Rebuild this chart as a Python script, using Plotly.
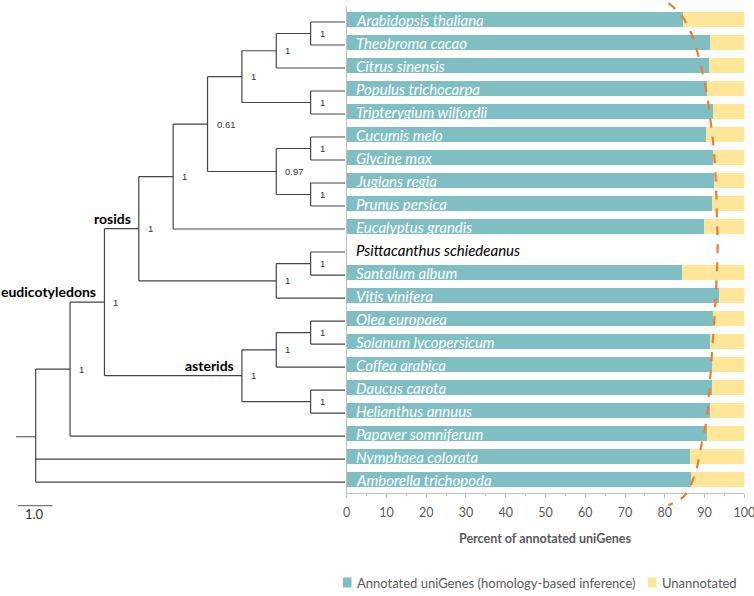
import plotly.graph_objects as go

# ---------------- data ----------------
species = ["Arabidopsis thaliana", "Theobroma cacao", "Citrus sinensis",
           "Populus trichocarpa", "Tripterygium wilfordii", "Cucumis melo",
           "Glycine max", "Juglans regia", "Prunus persica", "Eucalyptus grandis",
           "Psittacanthus schiedeanus", "Santalum album", "Vitis vinifera",
           "Olea europaea", "Solanum lycopersicum", "Coffea arabica",
           "Daucus carota", "Helianthus annuus", "Papaver somniferum",
           "Nymphaea colorata", "Amborella trichopoda"]
annotated = [84.4, 91.4, 91.1, 90.6, 92.0, 90.4, 92.1, 92.4, 91.7, 89.7,
             None, 84.2, 93.5, 92.1, 91.4, 91.9, 91.7, 91.4, 90.6, 86.3, 86.5]
unannotated = [15.6, 8.6, 8.9, 9.4, 8.0, 9.6, 7.9, 7.6, 8.3, 10.3,
               None, 15.8, 6.5, 7.9, 8.6, 8.1, 8.3, 8.6, 9.4, 13.7, 13.5]

# dashed guide curve (percent, row index)
curve_pct = [80.9, 83.8, 86.3, 88.4, 89.7, 90.8, 91.8, 92.4, 92.9, 93.1, 93.3,
             92.9, 92.4, 91.8, 91.2, 90.5, 89.3, 87.9, 86.3, 84.7, 80.9]
curve_row = [-0.73, -0.29, 0.43, 1.52, 2.47, 3.48, 4.78, 5.78, 7.25, 8.55, 9.86,
             11.74, 13.17, 14.64, 16.09, 17.39, 18.4, 19.57, 20.29, 20.73, 21.09]

legend_names = ["Annotated uniGenes (homology-based inference)", "Unannotated"]
x_ticks = [0, 10, 20, 30, 40, 50, 60, 70, 80, 90, 100]
scale_bar_length = 1.0


def clade(*children, support=None, label=None):
    return {"children": list(children), "support": support, "label": label}


t_A = clade("Arabidopsis thaliana", "Theobroma cacao", support="1")
t_B = clade(t_A, "Citrus sinensis", support="1")
t_C = clade("Populus trichocarpa", "Tripterygium wilfordii", support="1")
t_D = clade(t_B, t_C, support="1")
t_E = clade("Cucumis melo", "Glycine max", support="1")
t_F = clade("Juglans regia", "Prunus persica", support="1")
t_G = clade(t_E, t_F, support="0.97")
t_H = clade(t_D, t_G, support="0.61")
t_I = clade(t_H, "Eucalyptus grandis", support="1")
t_K = clade("Psittacanthus schiedeanus", "Santalum album", support="1")
t_L = clade(t_K, "Vitis vinifera", support="1")
t_J = clade(t_I, t_L, support="1", label="rosids")
t_N = clade("Olea europaea", "Solanum lycopersicum", support="1")
t_O = clade(t_N, "Coffea arabica", support="1")
t_P = clade("Daucus carota", "Helianthus annuus", support="1")
t_Q = clade(t_O, t_P, support="1", label="asterids")
t_M = clade(t_J, t_Q, support="1", label="eudicotyledons")
t_R = clade(t_M, "Papaver somniferum", support="1")
tree = clade(t_R, "Nymphaea colorata", "Amborella trichopoda")

# ---------------- geometry (pixels of the 754x596 page) ----------------
W, HPX = 754, 596
BAR_L, BAR_R = 346.7, 744.3
ROW_TOP_PX, ROW_BOT_PX = 7.35, 492.7
ROW_MIN, ROW_MAX = -0.55, 20.55
ROW_PX = (ROW_BOT_PX - ROW_TOP_PX) / (ROW_MAX - ROW_MIN)
TREE_ROOT_PX, TREE_LEAF_PX = 35.7, 345.0
TREE_DY = 2.0 / ROW_PX  # tree drawn 2px lower than bar centres


def pdom(px_top, px_bot):
    return [1 - px_bot / HPX, 1 - px_top / HPX]


def px_x(px):
    return px / W


def px_y(px):
    return 1 - px / HPX


def height(n):
    return 0 if isinstance(n, str) else 1 + max(height(c) for c in n["children"])


TH = height(tree)
unit = (TREE_LEAF_PX - TREE_ROOT_PX) / TH
tree_range = [-TREE_ROOT_PX / unit, TH + (BAR_L - TREE_LEAF_PX) / unit]

row_of = {s: i for i, s in enumerate(species)}
lx, ly = [], []
supports, clades = [], []


def layout_node(n):
    if isinstance(n, str):
        return float(TH), float(row_of[n])
    pos = [layout_node(c) for c in n["children"]]
    x = TH - height(n)
    ys = [p[1] for p in pos]
    y = sum(ys) / len(ys)
    lx.extend([x, x, None]); ly.extend([min(ys), max(ys), None])
    for cx, cy in pos:
        lx.extend([x, cx, None]); ly.extend([cy, cy, None])
    if n["support"]:
        supports.append((x, y, n["support"]))
    if n["label"]:
        clades.append((x, y, n["label"]))
    return x, y


root_x, root_y = layout_node(tree)
stub = 0.57
lx.extend([root_x - stub, root_x, None]); ly.extend([root_y, root_y, None])

# ---------------- figure ----------------
TEAL = "#7FBFC4"
GOLD = "#FFE699"
GREY_TXT = "#595959"
FONT = "Lato, Open Sans, sans-serif"

fig = go.Figure()
fig.add_trace(go.Bar(y=list(range(len(species))), x=annotated, orientation="h",
                     name=legend_names[0], marker=dict(color=TEAL, line_width=0),
                     width=0.65, xaxis="x", yaxis="y", hoverinfo="skip", showlegend=False))
fig.add_trace(go.Bar(y=list(range(len(species))), x=unannotated, orientation="h",
                     name=legend_names[1], marker=dict(color=GOLD, line_width=0),
                     width=0.65, xaxis="x", yaxis="y", hoverinfo="skip", showlegend=False))
fig.add_trace(go.Scatter(x=lx, y=ly, mode="lines", xaxis="x2", yaxis="y2",
                         line=dict(color="#454545", width=1.2), showlegend=False,
                         hoverinfo="skip"))
fig.add_trace(go.Scatter(x=curve_pct, y=curve_row, mode="lines", xaxis="x3", yaxis="y3",
                         line=dict(color="#ED7D31", width=2.2, dash="dash", shape="spline"),
                         showlegend=False, hoverinfo="skip"))

# overlay axis for the curve: larger vertical domain, same px mapping
OV_TOP_PX, OV_BOT_PX = 0.0, 520.0
ov_range = [ROW_MIN + (OV_BOT_PX - ROW_TOP_PX) / ROW_PX,
            ROW_MIN + (OV_TOP_PX - ROW_TOP_PX) / ROW_PX]

annotations = []
for i, s in enumerate(species):
    has_bar = annotated[i] is not None
    annotations.append(dict(xref="x", yref="y", x=0, y=i, xanchor="left", yanchor="middle",
                            xshift=7, showarrow=False, text=f"<i>{s}</i>",
                            font=dict(family=FONT, size=15,
                                      color="white" if has_bar else "black")))
for x, y, s in supports:
    annotations.append(dict(xref="x2", yref="y2", x=x, y=y, xanchor="left", yanchor="middle",
                            xshift=7, showarrow=False, text=s,
                            font=dict(family="Liberation Sans, Arial, sans-serif",
                                      size=9.5, color="#333333")))
for x, y, s in clades:
    annotations.append(dict(xref="x2", yref="y2", x=x, y=y, xanchor="right", yanchor="bottom",
                            xshift=-6, yshift=0, showarrow=False, text=f"<b>{s}</b>",
                            font=dict(family=FONT, size=14, color="black")))
annotations.append(dict(xref="x2", yref="paper", x=-stub + scale_bar_length / 2 + 0.04,
                        y=px_y(513.5), xanchor="center", yanchor="middle",
                        showarrow=False, text="1.0",
                        font=dict(family=FONT, size=13, color="#333333")))
annotations.append(dict(xref="x domain", yref="paper", x=0.5, y=px_y(538),
                        xanchor="center", yanchor="middle", showarrow=False,
                        text="<b>Percent of annotated uniGenes</b>",
                        font=dict(family=FONT, size=12.5, color=GREY_TXT)))

sb_x0 = root_x - stub + 0.06
shapes = [dict(type="line", xref="x2", yref="paper", x0=sb_x0, x1=sb_x0 + scale_bar_length,
               y0=px_y(505.7), y1=px_y(505.7), line=dict(color="#555555", width=1))]

# legend (drawn as swatches + text)
legend_items = [(legend_names[0], TEAL, 343.0), (legend_names[1], GOLD, 648.0)]
LEG_Y = 582.5
for name, col, x0 in legend_items:
    shapes.append(dict(type="rect", xref="paper", yref="paper",
                       x0=px_x(x0), x1=px_x(x0 + 8.5), y0=px_y(LEG_Y + 5), y1=px_y(LEG_Y - 5),
                       fillcolor=col, line=dict(width=0)))
    annotations.append(dict(xref="paper", yref="paper", x=px_x(x0 + 12), y=px_y(LEG_Y),
                            xanchor="left", yanchor="middle", showarrow=False, text=name,
                            font=dict(family=FONT, size=13, color=GREY_TXT)))

fig.update_layout(
    width=W, height=HPX, margin=dict(l=0, r=0, t=0, b=0, autoexpand=False),
    paper_bgcolor="white", plot_bgcolor="rgba(0,0,0,0)",
    barmode="stack", bargap=0,
    showlegend=False,
    xaxis=dict(domain=[BAR_L / W, BAR_R / W], range=[0, 100], anchor="y",
               tickvals=x_ticks, ticks="outside", ticklen=4, tickcolor="#BFBFBF",
               minor=dict(dtick=5, ticks="outside", ticklen=2, tickcolor="#BFBFBF"),
               showline=True, linecolor="#BFBFBF", linewidth=1, showgrid=False,
               zeroline=False, ticklabelstandoff=4, ticklabeloverflow="allow",
               tickfont=dict(family=FONT, size=12.5, color=GREY_TXT), fixedrange=True),
    yaxis=dict(domain=pdom(ROW_TOP_PX, ROW_BOT_PX), range=[ROW_MAX, ROW_MIN], anchor="x",
               showticklabels=False, ticks="", showgrid=False, zeroline=False,
               showline=True, linecolor="#BFBFBF", linewidth=1, fixedrange=True),
    xaxis2=dict(domain=[0, BAR_L / W], range=tree_range, anchor="y2", visible=False),
    yaxis2=dict(domain=pdom(ROW_TOP_PX, ROW_BOT_PX),
                range=[ROW_MAX - TREE_DY, ROW_MIN - TREE_DY], anchor="x2", visible=False),
    xaxis3=dict(domain=[BAR_L / W, BAR_R / W], range=[0, 100], anchor="y3", visible=False),
    yaxis3=dict(domain=pdom(OV_TOP_PX, OV_BOT_PX), range=ov_range, anchor="x3", visible=False),
    annotations=annotations, shapes=shapes,
)

fig.write_html("out.html", config={"displayModeBar": False},
               post_script="document.body.style.margin='0';document.body.style.overflow='hidden';")
